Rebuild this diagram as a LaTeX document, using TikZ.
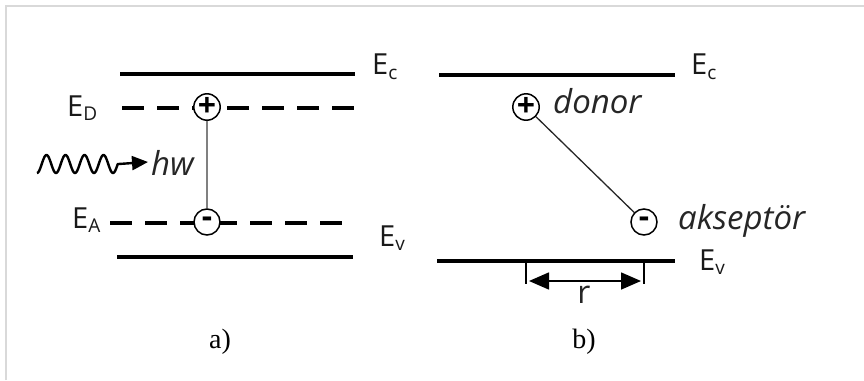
\documentclass[tikz,border=0pt]{standalone}
\usepackage{fontspec}
\setmainfont{Open Sans}
\newfontfamily\serifA{Liberation Serif}
\usetikzlibrary{arrows.meta}
\newcommand\lsub[1]{\raisebox{-0.3ex}{\fontsize{19}{20}\selectfont #1}}
\begin{document}
\begin{tikzpicture}[x=1pt,y=-1pt,
 band/.style={line width=3.5pt},
 lvl/.style={line width=3.5pt, dash pattern=on 22pt off 13pt},
 circ/.style={circle, draw, line width=1.5pt, fill=white, minimum size=26pt, inner sep=0pt, font=\bfseries\fontsize{32}{32}\selectfont},
 lbl/.style={font=\fontsize{29}{32}\selectfont, inner sep=0pt, anchor=west, text=black!90},
 ital/.style={font=\fontsize{33}{36}\selectfont\itshape, inner sep=0pt, anchor=west, text=black!85},
 capt/.style={font=\serifA\fontsize{28}{32}\selectfont, inner sep=0pt}]
\useasboundingbox (0,0) rectangle (864,380);
\draw[black!15, line width=2pt] (6,380) -- (6,6) -- (864,6);
% panel a
\coordinate (ac1) at (120,74); \coordinate (ac2) at (355,74);
\coordinate (ad1) at (122,108); \coordinate (ad2) at (354,108);
\coordinate (aa1) at (110,223); \coordinate (aa2) at (342,223);
\coordinate (av1) at (117,257); \coordinate (av2) at (353,257);
\draw[band] (ac1) -- (ac2);
\draw[lvl] (ad1) -- (ad2);
\draw[lvl] (aa1) -- (aa2);
\draw[band] (av1) -- (av2);
\node[lbl] (aEc) at (372,67) {E\lsub{c}};
\node[lbl] (aED) at (67,108) {E\lsub{D}};
\node[lbl] (aEA) at (72,220) {E\lsub{A}};
\node[lbl] (aEv) at (379,238) {E\lsub{v}};
\node[circ] (pa) at (207,107) {+};
\node[circ] (ma) at (207,222) {-};
\draw[black!50, line width=1.5pt] (pa) -- (ma);
\coordinate (wend) at (148,162);
\draw[line width=2.4pt, line join=round, -{Triangle[length=16pt,width=14pt]}]
  plot[domain=0:4.25, samples=120, smooth] ({37+\x*19},{164-9*sin(\x*360-90)}) -- (wend);
\node[ital] (hw) at (151,163) {hw};
\node[capt] (capa) at (220,342) {a)};
% panel b
\coordinate (bc1) at (439,75); \coordinate (bc2) at (675,75);
\coordinate (bv1) at (437,261); \coordinate (bv2) at (675,261);
\draw[band] (bc1) -- (bc2);
\draw[band] (bv1) -- (bv2);
\node[lbl] (bEc) at (691,67) {E\lsub{c}};
\node[lbl] (bEv) at (699,262) {E\lsub{v}};
\node[circ] (pb) at (526,107) {+};
\node[circ] (mb) at (644,222) {-};
\draw[black!85, line width=1.3pt] (pb) -- (mb);
\node[ital] (don) at (553,101) {donor};
\node[ital] (akc) at (678,221) {akseptör};
\coordinate (t1a) at (526,261); \coordinate (t1b) at (526,284);
\coordinate (t2a) at (644,261); \coordinate (t2b) at (644,284);
\draw[line width=1.3pt] (t1a) -- (t1b);
\draw[line width=1.3pt] (t2a) -- (t2b);
\coordinate (r1) at (529,281); \coordinate (r2) at (641,281);
\draw[line width=1.6pt, {Triangle[length=20pt,width=17pt]}-{Triangle[length=20pt,width=17pt]}] (r1) -- (r2);
\node[font=\fontsize{32}{34}\selectfont, inner sep=0pt, text=black!85] (rr) at (584,295) {r};
\node[capt] (capb) at (584,342) {b)};
\end{tikzpicture}
\end{document}
